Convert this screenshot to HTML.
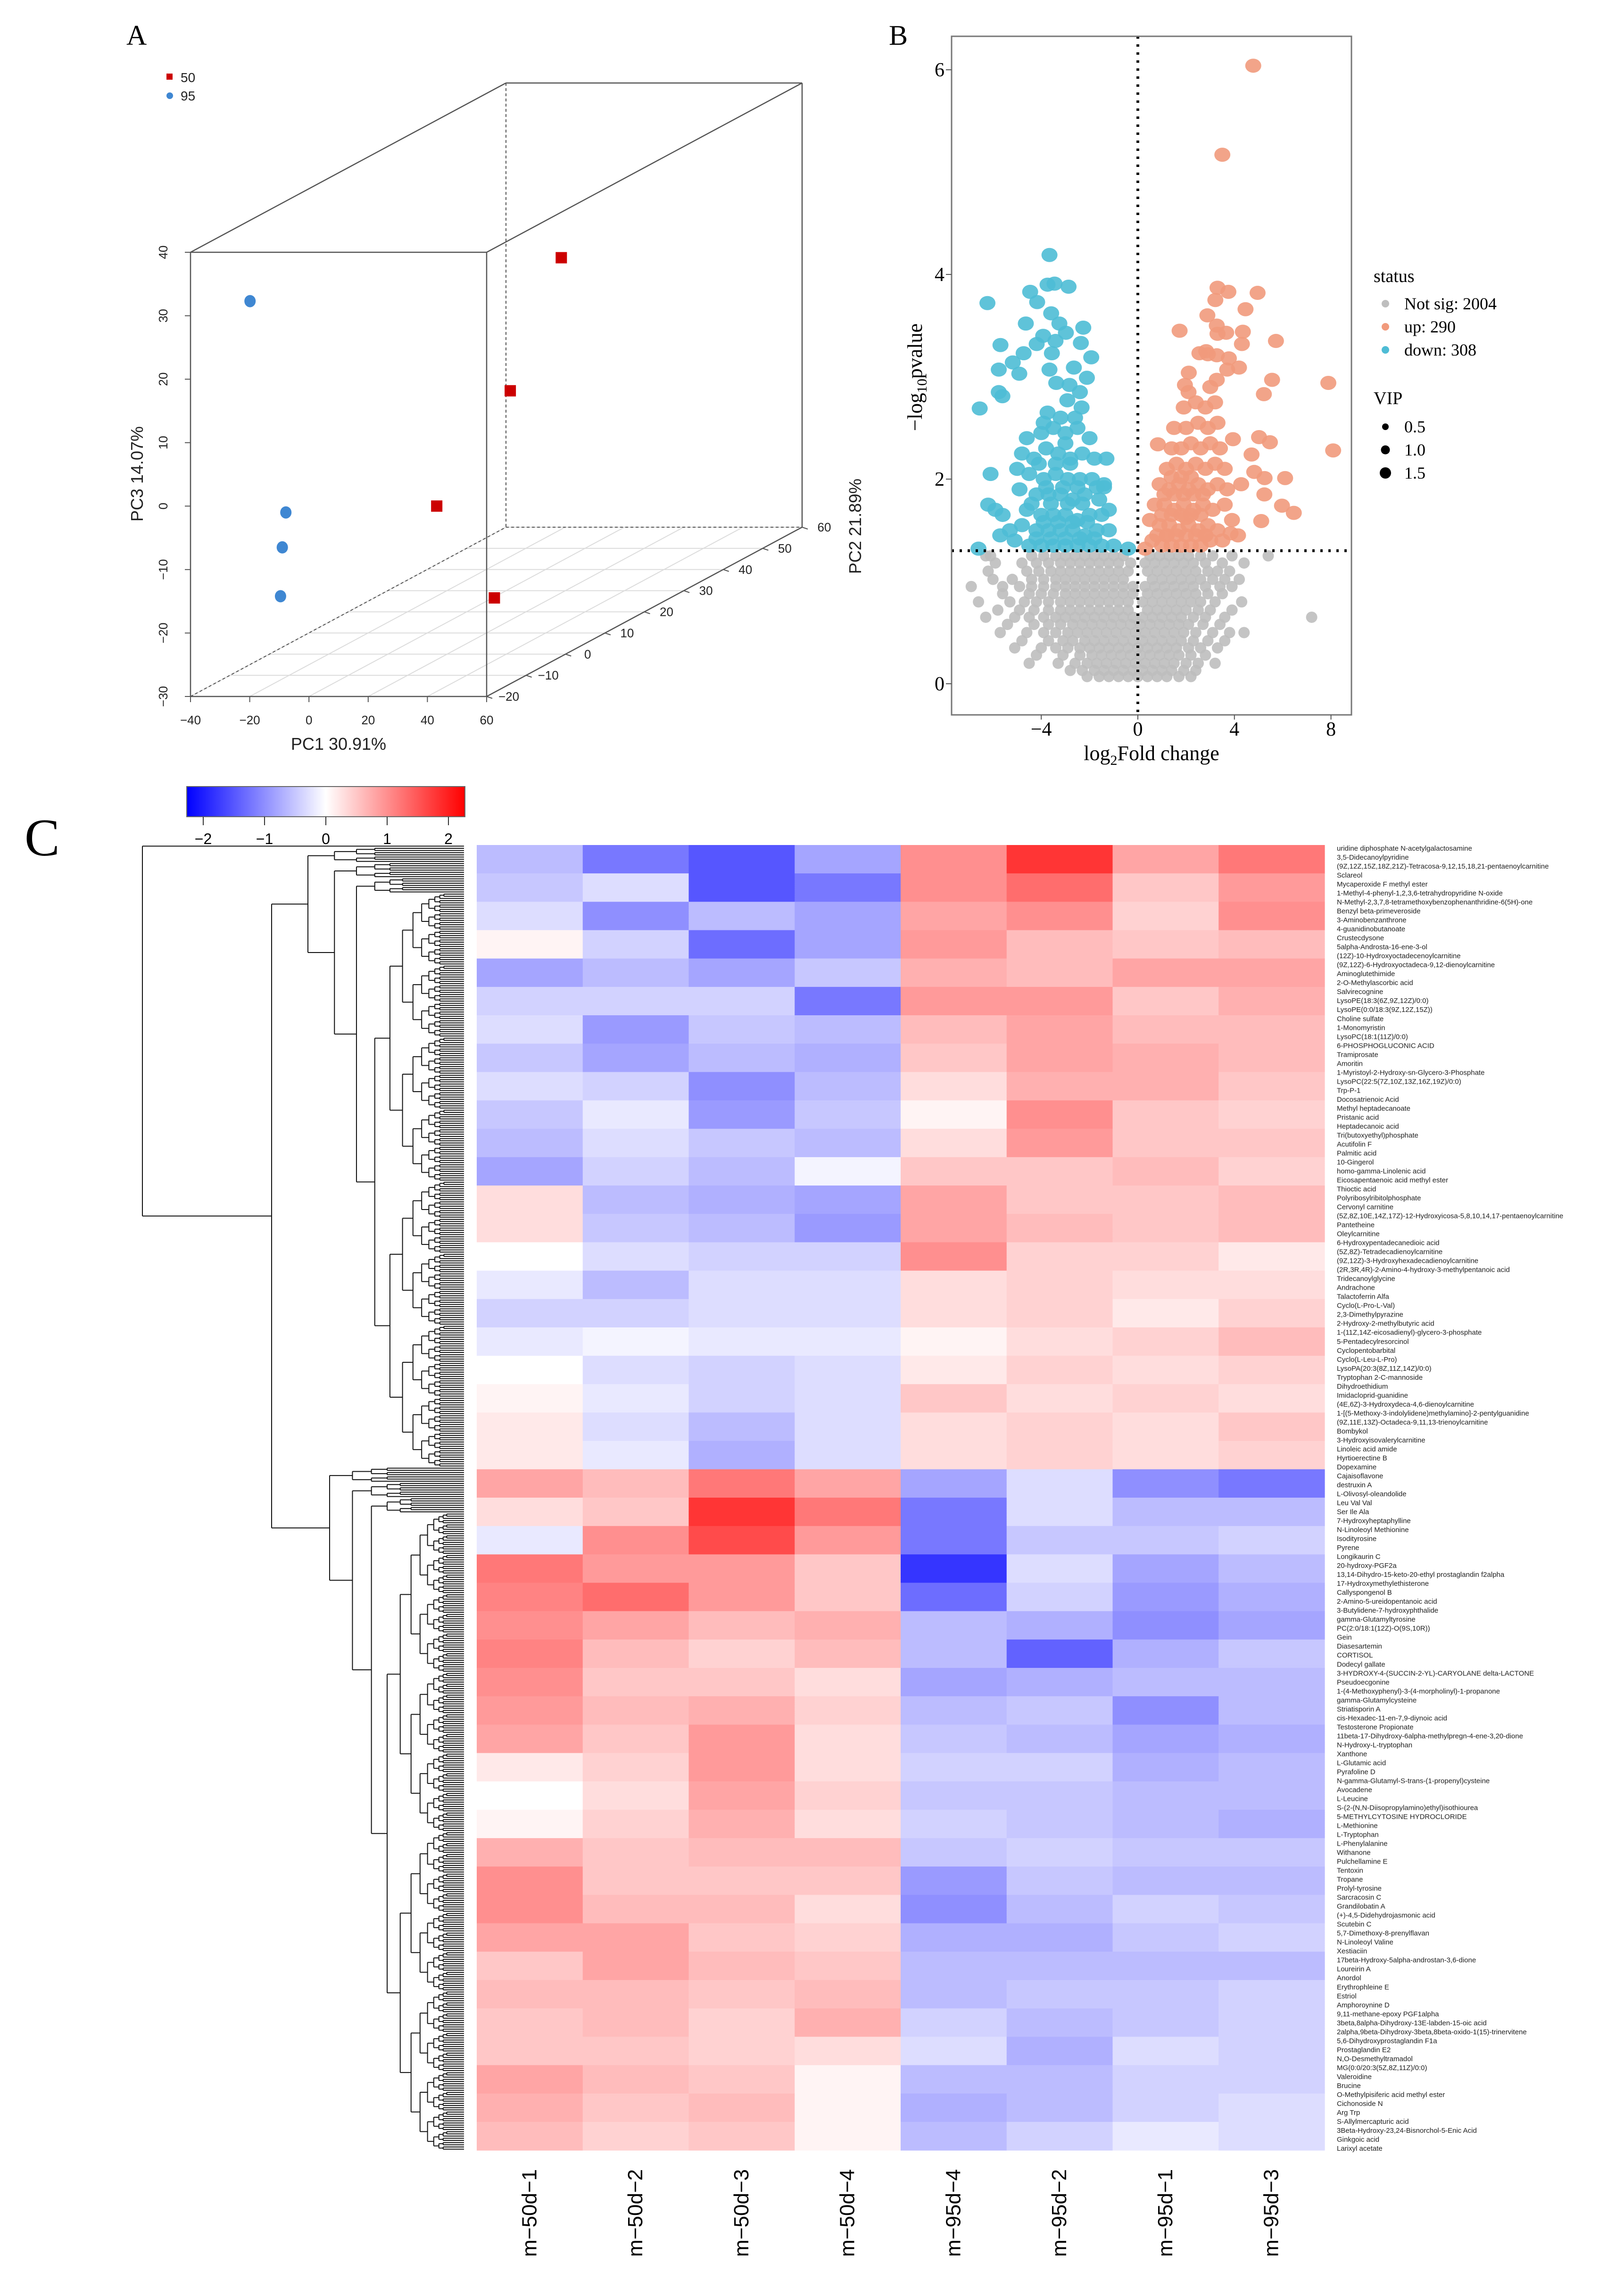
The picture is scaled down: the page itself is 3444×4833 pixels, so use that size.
<!DOCTYPE html>
<html><head><meta charset="utf-8">
<style>
html,body{margin:0;padding:0;background:#fff;}
svg{display:block;}
text{font-family:"Liberation Sans",sans-serif;}
.serif{font-family:"Liberation Serif",serif;}
</style></head>
<body>
<svg id="fig" width="3444" height="4833" viewBox="0 0 3444 4833" xmlns="http://www.w3.org/2000/svg">
<rect width="3444" height="4833" fill="#fff"/>
<g id="pca"></g>
<g id="volcano"></g>
<g id="heat"></g>
</svg>
<script>
// ---------------- PCA data ----------------
const pcaGroups = ["50","95"];
const pcaPC1 = [-8, 1.4, 3.2, 49.3,   -7.8, -9.0, -9.6, -19.9];
const pcaPC2 = [50, 30, 10, -10,   -20, -20, -20, -20];
const pcaPC3 = [15.8, 1.5, -10, -17.8,   -1.0, -6.5, -14.2, 32.3];
const pcaGroupOf = [0,0,0,0,1,1,1,1];
const pcaTicksPC1 = [-40,-20,0,20,40,60];
const pcaTicksPC2 = [-20,-10,0,10,20,30,40,50,60];
const pcaTicksPC3 = [-30,-20,-10,0,10,20,30,40];

// ---------------- Volcano data ----------------
const volXTicks = [-4,0,4,8];
const volYTicks = [0,2,4,6];
const downX = [-3.66,-3.74,-3.45,-2.87,-4.46,-6.23,-4.17,-3.59,-4.64,-3.25,-2.26,-5.69,-3.92,-2.98,-3.41,-4.73,-4.19,-2.36,-5.18,-1.93,-3.56,-5.76,-4.91,-3.66,-2.65,-2.11,-5.76,-5.61,-3.38,-2.83,-6.55,-3.74,-2.92,-2.33,
 -4.6,-4.0,-3.5,-3.0,-2.5,-2.0,-4.8,-4.3,-3.8,-3.3,-2.8,-2.3,-1.8,-1.3,-5.0,-4.5,-3.9,-3.4,-2.9,-2.4,-1.9,-6.1,-4.9,-4.2,-3.7,-3.2,-2.7,-2.2,-1.6,-6.2,-5.9,-5.6,-4.6,-4.0,-3.5,-3.0,-2.5,-2.0,-1.5,-1.2,-5.3,-4.8,-4.2,-3.7,-3.2,-2.7,-2.2,-1.7,-1.2,-5.7,-5.1,-4.5,-4.0,-3.5,-3.0,-2.5,-2.0,-1.5,-1.0,-6.6,-0.4,-3.2,-2.6,-3.9,-2.4,-3.0,-1.4,
 -4.2,-3.6,-3.0,-2.4,-1.8,-3.9,-3.3,-2.7,-2.1,-4.4,-3.6,-2.9,-2.3,-1.7,-3.8,-3.1,-2.5,-1.4,-4.1,-3.4,-2.8];
const downY = [4.19,3.90,3.91,3.88,3.83,3.72,3.73,3.62,3.52,3.52,3.48,3.31,3.40,3.43,3.35,3.23,3.32,3.33,3.14,3.19,3.23,3.07,3.03,3.07,3.09,2.99,2.85,2.81,2.94,2.92,2.69,2.65,2.77,2.70,
 2.40,2.45,2.50,2.45,2.50,2.40,2.25,2.20,2.30,2.25,2.20,2.25,2.20,2.20,2.10,2.05,2.00,2.05,2.00,2.00,2.00,2.05,1.90,1.85,1.85,1.85,1.80,1.85,1.80,1.75,1.70,1.65,1.70,1.65,1.65,1.65,1.60,1.65,1.65,1.70,1.50,1.55,1.50,1.50,1.50,1.50,1.45,1.50,1.50,1.45,1.40,1.35,1.35,1.35,1.35,1.35,1.35,1.35,1.35,1.32,1.32,2.60,2.60,2.55,2.85,2.35,1.95,
 1.42,1.42,1.42,1.42,1.42,1.58,1.58,1.58,1.58,1.76,1.76,1.76,1.76,1.92,1.92,1.92,1.92,1.92,2.15,2.15,2.15];
const upX = [4.78,3.50,2.88,3.66,2.83,2.90,3.30,3.75,3.21,4.96,4.46,1.73,3.27,3.30,4.35,4.31,5.72,2.55,3.27,3.77,2.11,4.19,3.70,5.56,7.89,1.95,3.27,5.22,8.09,0.83,5.02,5.47,4.71,3.94,4.82,5.25,6.10,4.28,5.24,5.97,6.46,5.11,3.84,4.15,
 0.6,1.0,1.4,1.8,2.2,2.6,3.0,3.5,0.5,0.9,1.3,1.7,2.1,2.5,2.9,3.3,0.7,1.1,1.5,1.9,2.3,2.7,3.1,3.6,0.9,1.3,1.7,2.1,2.5,2.9,3.3,3.7,1.2,1.6,2.0,2.4,2.8,3.2,3.6,1.4,1.8,2.2,2.6,3.0,3.4,1.5,2.0,2.5,2.9,3.3,1.9,2.4,2.8,3.2,2.1,3.0,0.3,1.2,2.0,2.8,3.9,
 0.8,1.2,1.6,2.0,2.4,2.8,1.0,1.4,1.8,2.2,2.6,1.1,1.5,1.9,2.3,2.7,1.4,1.8,2.2];
const upY = [6.04,5.17,3.60,3.43,3.25,3.22,3.87,3.83,3.75,3.82,3.66,3.45,3.50,3.42,3.44,3.32,3.35,3.23,3.21,3.18,3.04,3.09,3.07,2.97,2.94,2.92,2.97,2.83,2.28,2.34,2.41,2.36,2.24,2.39,2.07,2.01,2.01,1.95,1.85,1.74,1.67,1.59,1.47,1.45,
 1.40,1.35,1.35,1.35,1.35,1.35,1.40,1.40,1.60,1.55,1.55,1.50,1.55,1.50,1.55,1.50,1.75,1.75,1.70,1.75,1.70,1.75,1.70,1.75,1.95,1.90,1.95,1.90,1.95,1.90,1.95,1.90,2.10,2.15,2.10,2.15,2.10,2.15,2.10,2.30,2.30,2.35,2.30,2.35,2.30,2.50,2.50,2.55,2.50,2.55,2.70,2.75,2.70,2.75,2.85,2.90,1.32,1.45,1.62,1.45,1.60,
 1.45,1.45,1.45,1.45,1.45,1.45,1.65,1.65,1.65,1.65,1.65,1.85,1.85,1.85,1.85,1.85,2.02,2.02,2.02];
const nsRowY = [1.25,1.18,1.1,1.02,0.95,0.88,0.8,0.72,0.65,0.58,0.5,0.42,0.35,0.28,0.2,0.13,0.07];
const nsRowX = [
 [-6.3,-6.1,-4.4,-3.9,-3.4,-3.0,-2.6,-2.2,-1.8,-1.4,-1.0,-0.6,0.5,0.9,1.3,1.7,2.1,2.6,3.1,3.9,5.4],
 [-5.9,-4.8,-4.2,-3.7,-3.2,-2.8,-2.4,-2.0,-1.6,-1.2,-0.8,-0.3,0.3,0.7,1.1,1.5,1.9,2.3,2.8,3.5,4.4],
 [-6.2,-4.6,-4.1,-3.6,-3.2,-2.8,-2.4,-2.0,-1.6,-1.2,-0.8,-0.4,0.4,0.8,1.2,1.6,2.0,2.4,2.9,3.3,3.8],
 [-6.0,-5.2,-4.4,-3.9,-3.4,-3.0,-2.6,-2.2,-1.8,-1.4,-1.0,-0.6,0.6,1.0,1.4,1.8,2.2,2.6,3.1,3.6,4.2],
 [-6.9,-5.6,-4.9,-4.4,-3.9,-3.4,-3.0,-2.6,-2.2,-1.8,-1.4,-1.0,-0.6,-0.2,0.3,0.7,1.1,1.5,1.9,2.3,2.8,3.4,3.9],
 [-5.6,-4.5,-4.0,-3.5,-3.0,-2.6,-2.2,-1.8,-1.4,-1.0,-0.6,-0.2,0.4,0.8,1.2,1.6,2.0,2.4,2.9,3.5],
 [-6.6,-5.3,-4.7,-4.2,-3.7,-3.2,-2.8,-2.4,-2.0,-1.6,-1.2,-0.8,-0.4,0.2,0.6,1.0,1.4,1.8,2.2,2.6,3.2,4.3],
 [-5.8,-4.9,-4.3,-3.7,-3.2,-2.8,-2.4,-2.0,-1.6,-1.2,-0.8,-0.4,0.4,0.8,1.2,1.6,2.0,2.5,3.0,3.9],
 [-6.3,-5.1,-4.5,-3.9,-3.4,-3.0,-2.6,-2.2,-1.8,-1.4,-1.0,-0.6,-0.2,0.2,0.6,1.0,1.4,1.8,2.3,2.8,3.6,7.2],
 [-5.4,-4.3,-3.7,-3.2,-2.7,-2.3,-1.9,-1.5,-1.1,-0.7,-0.3,0.1,0.5,0.9,1.3,1.7,2.1,2.7,3.4],
 [-5.7,-4.6,-3.9,-3.4,-2.9,-2.5,-2.1,-1.7,-1.3,-0.9,-0.5,-0.1,0.3,0.7,1.1,1.5,1.9,2.4,3.1,3.8,4.4],
 [-4.8,-3.7,-3.1,-2.7,-2.2,-1.8,-1.4,-1.0,-0.6,-0.2,0.2,0.6,1.0,1.4,1.8,2.3,2.9,3.6],
 [-5.1,-4.0,-3.4,-2.9,-2.4,-2.0,-1.6,-1.2,-0.8,-0.4,0.0,0.4,0.8,1.2,1.6,2.1,2.6,3.3],
 [-4.2,-3.1,-2.4,-1.9,-1.5,-1.1,-0.7,-0.3,0.1,0.5,0.9,1.3,1.7,2.2,2.8],
 [-4.5,-3.3,-2.6,-2.1,-1.7,-1.3,-0.9,-0.5,-0.1,0.3,0.7,1.1,1.5,2.0,2.5,3.2],
 [-2.8,-2.3,-1.8,-1.4,-1.0,-0.6,-0.2,0.2,0.6,1.0,1.4,1.9,2.4],
 [-2.1,-1.6,-1.2,-0.8,-0.4,0.0,0.4,0.8,1.2,1.7,2.2]
];
const legendStatus = ["Not sig:  2004","up:  290","down:  308"];
const legendVIP = ["0.5","1.0","1.5"];

// ---------------- Heatmap data ----------------
const heatCols = ["m\u221250d\u22121","m\u221250d\u22122","m\u221250d\u22123","m\u221250d\u22124","m\u221295d\u22124","m\u221295d\u22122","m\u221295d\u22121","m\u221295d\u22123"];
const heatBands = [
 [-0.6,-1.2,-1.5,-0.8,1.0,1.8,0.8,1.2],
 [-0.5,-0.3,-1.5,-1.2,1.0,1.3,0.5,0.9],
 [-0.3,-1.0,-0.6,-0.8,0.8,1.0,0.4,1.0],
 [0.1,-0.4,-1.3,-0.8,0.9,0.6,0.5,0.6],
 [-0.8,-0.6,-0.8,-0.5,0.7,0.6,0.8,0.8],
 [-0.4,-0.4,-0.4,-1.2,0.9,0.9,0.5,0.7],
 [-0.3,-0.9,-0.5,-0.6,0.6,0.8,0.6,0.6],
 [-0.5,-0.8,-0.6,-0.7,0.5,0.8,0.7,0.6],
 [-0.3,-0.4,-1.0,-0.6,0.3,0.7,0.7,0.5],
 [-0.5,-0.2,-0.9,-0.5,0.1,1.0,0.5,0.4],
 [-0.6,-0.3,-0.5,-0.6,0.3,0.9,0.5,0.5],
 [-0.8,-0.4,-0.6,-0.1,0.5,0.5,0.6,0.4],
 [0.3,-0.6,-0.7,-0.8,0.8,0.5,0.5,0.6],
 [0.3,-0.5,-0.6,-0.9,0.8,0.6,0.5,0.6],
 [0.0,-0.3,-0.4,-0.4,1.0,0.4,0.4,0.2],
 [-0.2,-0.6,-0.3,-0.3,0.3,0.4,0.3,0.3],
 [-0.4,-0.4,-0.3,-0.3,0.3,0.4,0.2,0.4],
 [-0.2,-0.1,-0.2,-0.2,0.1,0.3,0.4,0.6],
 [0.0,-0.3,-0.4,-0.3,0.2,0.4,0.3,0.4],
 [0.1,-0.2,-0.4,-0.3,0.5,0.3,0.4,0.3],
 [0.2,-0.3,-0.6,-0.3,0.3,0.4,0.3,0.5],
 [0.2,-0.2,-0.7,-0.3,0.3,0.4,0.3,0.4],
 [0.8,0.6,1.2,0.8,-0.8,-0.3,-1.0,-1.2],
 [0.3,0.5,1.8,1.2,-1.2,-0.3,-0.6,-0.6],
 [-0.2,1.0,1.6,0.9,-1.2,-0.5,-0.5,-0.4],
 [1.2,0.9,0.9,0.5,-1.8,-0.3,-0.8,-0.6],
 [1.1,1.3,0.9,0.5,-1.3,-0.4,-0.9,-0.7],
 [1.0,0.8,0.6,0.7,-0.6,-0.7,-1.0,-0.8],
 [1.1,0.6,0.4,0.6,-0.6,-1.4,-0.7,-0.5],
 [1.0,0.5,0.5,0.3,-0.8,-0.7,-0.6,-0.6],
 [0.9,0.6,0.7,0.4,-0.6,-0.5,-1.0,-0.6],
 [0.8,0.5,0.9,0.3,-0.5,-0.6,-0.8,-0.7],
 [0.2,0.4,0.9,0.3,-0.4,-0.4,-0.7,-0.6],
 [0.0,0.3,0.8,0.4,-0.5,-0.5,-0.6,-0.6],
 [0.1,0.4,0.7,0.3,-0.4,-0.5,-0.6,-0.7],
 [0.7,0.5,0.6,0.6,-0.5,-0.4,-0.5,-0.5],
 [1.0,0.5,0.5,0.5,-0.9,-0.5,-0.6,-0.6],
 [1.0,0.6,0.6,0.3,-1.0,-0.6,-0.4,-0.5],
 [0.8,0.8,0.5,0.4,-0.7,-0.7,-0.5,-0.4],
 [0.5,0.8,0.6,0.5,-0.6,-0.6,-0.6,-0.6],
 [0.6,0.6,0.5,0.6,-0.6,-0.5,-0.5,-0.4],
 [0.5,0.6,0.4,0.7,-0.4,-0.6,-0.5,-0.4],
 [0.5,0.5,0.4,0.3,-0.3,-0.7,-0.3,-0.4],
 [0.8,0.6,0.5,0.1,-0.6,-0.6,-0.4,-0.4],
 [0.7,0.5,0.6,0.1,-0.7,-0.6,-0.4,-0.3],
 [0.6,0.4,0.5,0.1,-0.6,-0.4,-0.2,-0.3]
];
const colorTicks = [-2,-1,0,1,2];
const rowLabels = ["uridine diphosphate N-acetylgalactosamine","3,5-Didecanoylpyridine","(9Z,12Z,15Z,18Z,21Z)-Tetracosa-9,12,15,18,21-pentaenoylcarnitine","Sclareol","Mycaperoxide F methyl ester","1-Methyl-4-phenyl-1,2,3,6-tetrahydropyridine N-oxide","N-Methyl-2,3,7,8-tetramethoxybenzophenanthridine-6(5H)-one","Benzyl beta-primeveroside","3-Aminobenzanthrone","4-guanidinobutanoate","Crustecdysone","5alpha-Androsta-16-ene-3-ol","(12Z)-10-Hydroxyoctadecenoylcarnitine","(9Z,12Z)-6-Hydroxyoctadeca-9,12-dienoylcarnitine","Aminoglutethimide","2-O-Methylascorbic acid","Salvirecognine","LysoPE(18:3(6Z,9Z,12Z)/0:0)","LysoPE(0:0/18:3(9Z,12Z,15Z))","Choline sulfate","1-Monomyristin","LysoPC(18:1(11Z)/0:0)","6-PHOSPHOGLUCONIC ACID","Tramiprosate","Amoritin","1-Myristoyl-2-Hydroxy-sn-Glycero-3-Phosphate","LysoPC(22:5(7Z,10Z,13Z,16Z,19Z)/0:0)","Trp-P-1","Docosatrienoic Acid","Methyl heptadecanoate","Pristanic acid","Heptadecanoic acid","Tri(butoxyethyl)phosphate","Acutifolin F","Palmitic acid","10-Gingerol","homo-gamma-Linolenic acid","Eicosapentaenoic acid methyl ester","Thioctic acid","Polyribosylribitolphosphate","Cervonyl carnitine","(5Z,8Z,10E,14Z,17Z)-12-Hydroxyicosa-5,8,10,14,17-pentaenoylcarnitine","Pantetheine","Oleylcarnitine","6-Hydroxypentadecanedioic acid","(5Z,8Z)-Tetradecadienoylcarnitine","(9Z,12Z)-3-Hydroxyhexadecadienoylcarnitine","(2R,3R,4R)-2-Amino-4-hydroxy-3-methylpentanoic acid","Tridecanoylglycine","Andrachone","Talactoferrin Alfa","Cyclo(L-Pro-L-Val)","2,3-Dimethylpyrazine","2-Hydroxy-2-methylbutyric acid","1-(11Z,14Z-eicosadienyl)-glycero-3-phosphate","5-Pentadecylresorcinol","Cyclopentobarbital","Cyclo(L-Leu-L-Pro)","LysoPA(20:3(8Z,11Z,14Z)/0:0)","Tryptophan 2-C-mannoside","Dihydroethidium","Imidacloprid-guanidine","(4E,6Z)-3-Hydroxydeca-4,6-dienoylcarnitine","1-[(5-Methoxy-3-indolylidene)methylamino]-2-pentylguanidine","(9Z,11E,13Z)-Octadeca-9,11,13-trienoylcarnitine","Bombykol","3-Hydroxyisovalerylcarnitine","Linoleic acid amide","Hyrtioerectine B","Dopexamine","Cajaisoflavone","destruxin A","L-Olivosyl-oleandolide","Leu Val Val","Ser Ile Ala","7-Hydroxyheptaphylline","N-Linoleoyl Methionine","Isodityrosine","Pyrene","Longikaurin C","20-hydroxy-PGF2a","13,14-Dihydro-15-keto-20-ethyl prostaglandin f2alpha","17-Hydroxymethylethisterone","Callyspongenol B","2-Amino-5-ureidopentanoic acid","3-Butylidene-7-hydroxyphthalide","gamma-Glutamyltyrosine","PC(2:0/18:1(12Z)-O(9S,10R))","Gein","Diasesartemin","CORTISOL","Dodecyl gallate","3-HYDROXY-4-(SUCCIN-2-YL)-CARYOLANE delta-LACTONE","Pseudoecgonine","1-(4-Methoxyphenyl)-3-(4-morpholinyl)-1-propanone","gamma-Glutamylcysteine","Striatisporin A","cis-Hexadec-11-en-7,9-diynoic acid","Testosterone Propionate","11beta-17-Dihydroxy-6alpha-methylpregn-4-ene-3,20-dione","N-Hydroxy-L-tryptophan","Xanthone","L-Glutamic acid","Pyrafoline D","N-gamma-Glutamyl-S-trans-(1-propenyl)cysteine","Avocadene","L-Leucine","S-(2-(N,N-Diisopropylamino)ethyl)isothiourea","5-METHYLCYTOSINE HYDROCLORIDE","L-Methionine","L-Tryptophan","L-Phenylalanine","Withanone","Pulchellamine E","Tentoxin","Tropane","Prolyl-tyrosine","Sarcracosin C","Grandilobatin A","(+)-4,5-Didehydrojasmonic acid","Scutebin C","5,7-Dimethoxy-8-prenylflavan","N-Linoleoyl Valine","Xestiaciin","17beta-Hydroxy-5alpha-androstan-3,6-dione","Loureirin A","Anordol","Erythrophleine E","Estriol","Amphoroynine D","9,11-methane-epoxy PGF1alpha","3beta,8alpha-Dihydroxy-13E-labden-15-oic acid","2alpha,9beta-Dihydroxy-3beta,8beta-oxido-1(15)-trinervitene","5,6-Dihydroxyprostaglandin F1a","Prostaglandin E2","N,O-Desmethyltramadol","MG(0:0/20:3(5Z,8Z,11Z)/0:0)","Valeroidine","Brucine","O-Methylpisiferic acid methyl ester","Cichonoside N","Arg Trp","S-Allylmercapturic acid","3Beta-Hydroxy-23,24-Bisnorchol-5-Enic Acid","Ginkgoic acid","Larixyl acetate"];

const NS="http://www.w3.org/2000/svg";
function mk(tag, attrs, parent, txt){
  const e=document.createElementNS(NS,tag);
  for(const k in attrs) e.setAttribute(k,attrs[k]);
  if(txt!==undefined) e.textContent=txt;
  parent.appendChild(e); return e;
}

// ================= PCA =================
(function(){
  const g=document.getElementById('pca');
  const FL=404, FR=1032, FT=535, FB=1477; const DX=669, DY=-359;
  const x1=v=>FL+(v+40)/100*(FR-FL);
  const z3=v=>FB-(v+30)/70*(FB-FT);
  const dep=v=>(v+20)/80;
  const P=(a,b,c)=>{const t=dep(b);return [x1(a)+t*DX, z3(c)+t*DY];};
  let t=mk('text',{x:268,y:95,'font-size':60,class:'serif'},g,'A');
  
  
  pcaTicksPC2.forEach(v=>{const tt=dep(v);
    const l=mk('line',{x1:FL+tt*DX,y1:FB+tt*DY,x2:FR+tt*DX,y2:FB+tt*DY,stroke:'#dcdcdc','stroke-width':2},g);
    
    });
  pcaTicksPC1.forEach(v=>{const x=x1(v);
    const l=mk('line',{x1:x,y1:FB,x2:x+DX,y2:FB+DY,stroke:'#dcdcdc','stroke-width':2},g);
    
    });
  const solid=[[FL,FT,FR,FT],[FL,FT,FL,FB],[FR,FT,FR,FB],[FL,FB,FR,FB],[FL,FT,FL+DX,FT+DY],[FR,FT,FR+DX,FT+DY],[FL+DX,FT+DY,FR+DX,FT+DY],[FR+DX,FT+DY,FR+DX,FB+DY],[FR,FB,FR+DX,FB+DY]];
  solid.forEach(s=>{const l=mk('line',{x1:s[0],y1:s[1],x2:s[2],y2:s[3],stroke:'#555','stroke-width':2.5},g);
    
    });
  const dashed=[[FL+DX,FT+DY,FL+DX,FB+DY],[FL+DX,FB+DY,FR+DX,FB+DY],[FL,FB,FL+DX,FB+DY]];
  dashed.forEach(s=>{const l=mk('line',{x1:s[0],y1:s[1],x2:s[2],y2:s[3],stroke:'#555','stroke-width':2,'stroke-dasharray':'6,5'},g);
    
    });
  pcaTicksPC3.forEach(v=>{const y=z3(v);
    mk('line',{x1:FL-12,y1:y,x2:FL,y2:y,stroke:'#555','stroke-width':2},g);
    const tx=mk('text',{x:355,y:y,'font-size':26,'text-anchor':'middle',transform:`rotate(-90 355 ${y})`,fill:'#222'},g,String(v).replace('-','\u2212'));
    
    });
  pcaTicksPC1.forEach(v=>{const x=x1(v);
    mk('line',{x1:x,y1:FB,x2:x,y2:FB+12,stroke:'#555','stroke-width':2},g);
    const tx=mk('text',{x:x,y:1536,'font-size':26,'text-anchor':'middle',fill:'#222'},g,String(v).replace('-','\u2212'));
    
    });
  pcaTicksPC2.forEach(v=>{const tt=dep(v);const x=FR+tt*DX,y=FB+tt*DY;
    mk('line',{x1:x,y1:y,x2:x+12,y2:y+4,stroke:'#555','stroke-width':2},g);
    const tx=mk('text',{x:x+47,y:y+9,'font-size':26,'text-anchor':'middle',fill:'#222'},g,String(v).replace('-','\u2212'));
    
    });
  t=mk('text',{x:718,y:1590,'font-size':36,'text-anchor':'middle',fill:'#222'},g,'PC1  30.91%');
  
  
  t=mk('text',{x:303,y:1005,'font-size':36,'text-anchor':'middle',transform:'rotate(-90 303 1005)',fill:'#222'},g,'PC3  14.07%');
  
  
  t=mk('text',{x:1826,y:1116,'font-size':36,'text-anchor':'middle',transform:'rotate(-90 1826 1116)',fill:'#222'},g,'PC2  21.89%');
  
  
  pcaPC1.forEach((v,i)=>{const [x,y]=P(v,pcaPC2[i],pcaPC3[i]);let m;
    if(pcaGroupOf[i]===0){m=mk('rect',{x:x-12,y:y-12,width:24,height:24,fill:'#cc0000'},g);}
    else {m=mk('ellipse',{cx:x,cy:y,rx:12,ry:13,fill:'#3f87d2'},g);}
    
    });
  let m=mk('rect',{x:353,y:156,width:13,height:13,fill:'#cc0000'},g);
  
  
  t=mk('text',{x:383,y:174,'font-size':28,fill:'#222'},g,pcaGroups[0]);
  
  
  m=mk('circle',{cx:360,cy:203,r:7,fill:'#3f87d2'},g);
  
  
  t=mk('text',{x:383,y:213,'font-size':28,fill:'#222'},g,pcaGroups[1]);
  
  
})();

// ================= Volcano =================
(function(){
  const g=document.getElementById('volcano');
  const L=2018,R=2866,T=77,B=1516;
  const X=v=>2413+v*51.2, Y=v=>1450-v*217;
  let t=mk('text',{x:1885,y:95,'font-size':60,class:'serif'},g,'B');
  
  
  const clip=mk('clipPath',{id:'vclip'},g); mk('rect',{x:L,y:T,width:R-L,height:B-T},clip);
  const pg=mk('g',{'clip-path':'url(#vclip)'},g);
  nsRowY.forEach((yy,r)=>nsRowX[r].forEach(xx=>{
    const c=mk('circle',{cx:X(xx),cy:Y(yy),r:12,fill:'#bebebe','fill-opacity':0.9},pg);
    
    }));
  downX.forEach((xx,i)=>{const c=mk('ellipse',{cx:X(xx),cy:Y(downY[i]),rx:17,ry:15,fill:'#4ebcd5','fill-opacity':0.9},pg);
    
    });
  upX.forEach((xx,i)=>{const c=mk('ellipse',{cx:X(xx),cy:Y(upY[i]),rx:17,ry:15,fill:'#f19a7c','fill-opacity':0.9},pg);
    
    });
  let l=mk('line',{x1:X(0),y1:T,x2:X(0),y2:B,stroke:'#000','stroke-width':6,'stroke-dasharray':'5,12'},g);
  
  
  l=mk('line',{x1:L,y1:Y(1.3),x2:R,y2:Y(1.3),stroke:'#000','stroke-width':6,'stroke-dasharray':'5,12'},g);
  
  
  const fr=mk('rect',{x:L,y:T,width:R-L,height:B-T,fill:'none',stroke:'#777','stroke-width':3},g);
  
  
  volXTicks.forEach(v=>{mk('line',{x1:X(v),y1:B,x2:X(v),y2:B+10,stroke:'#555','stroke-width':2},g);
    const tx=mk('text',{x:X(v),y:1560,'font-size':42,'text-anchor':'middle',class:'serif'},g,String(v).replace('-','\u2212'));
    
    });
  volYTicks.forEach(v=>{mk('line',{x1:L-12,y1:Y(v),x2:L,y2:Y(v),stroke:'#555','stroke-width':2},g);
    const tx=mk('text',{x:2003,y:Y(v)+14,'font-size':42,'text-anchor':'end',class:'serif'},g,String(v));
    
    });
  t=mk('text',{x:2442,y:1612,'font-size':44,'text-anchor':'middle',class:'serif'},g);
  t.innerHTML='log<tspan font-size="30" dy="10">2</tspan><tspan dy="-10">Fold change</tspan>';
  
  
  t=mk('text',{x:1955,y:800,'font-size':44,'text-anchor':'middle',class:'serif',transform:'rotate(-90 1955 800)'},g);
  t.innerHTML='\u2212log<tspan font-size="30" dy="10">10</tspan><tspan dy="-10">pvalue</tspan>';
  
  
  t=mk('text',{x:2913,y:598,'font-size':38,class:'serif'},g,'status');
  
  
  const cols=['#bebebe','#f19a7c','#4ebcd5'];
  legendStatus.forEach((s,i)=>{const y=644+i*49;
    const c=mk('circle',{cx:2938,cy:y,r:8,fill:cols[i]},g);
    
    
    const tx=mk('text',{x:2978,y:y+12,'font-size':36,class:'serif'},g,s);
    
    });
  t=mk('text',{x:2913,y:857,'font-size':38,class:'serif'},g,'VIP');
  
  
  legendVIP.forEach((s,i)=>{const y=905+i*49;
    const c=mk('circle',{cx:2938,cy:y,r:7+i*2.5,fill:'#000'},g);
    
    
    const tx=mk('text',{x:2978,y:y+12,'font-size':36,class:'serif'},g,s);
    
    });
})();

// ================= Heatmap =================
(function(){
  const g=document.getElementById('heat');
  const HL=1011,HR=2809,HT=1792,HB=4560,N=598,BAND=13;
  const rh=(HB-HT)/N, cw=(HR-HL)/8;
  const col=v=>{const t=Math.min(Math.abs(v)/2.27,1);const c=Math.round(255*(1-t));
    return v>=0?`rgb(255,${c},${c})`:`rgb(${c},${c},255)`;};
  let t=mk('text',{x:52,y:1814,'font-size':112,class:'serif'},g,'C');
  
  
  const defs=mk('defs',{},g);
  const lg=mk('linearGradient',{id:'cbg',x1:0,x2:1,y1:0,y2:0},defs);
  mk('stop',{offset:0,'stop-color':'#0000ff'},lg);
  mk('stop',{offset:0.5,'stop-color':'#ffffff'},lg);
  mk('stop',{offset:1,'stop-color':'#ff0000'},lg);
  const cb=mk('rect',{x:396,y:1668,width:590,height:64,fill:'url(#cbg)',stroke:'#666','stroke-width':2},g);
  
  
  colorTicks.forEach(v=>{const x=691+v*130;
    mk('line',{x1:x,y1:1732,x2:x,y2:1750,stroke:'#333','stroke-width':2},g);
    const tx=mk('text',{x:x,y:1790,'font-size':32,'text-anchor':'middle'},g,String(v).replace('-','\u2212'));
    
    });
  for(let r=0;r<N;r++){const b=heatBands[Math.min(Math.floor(r/BAND),heatBands.length-1)];
    for(let c=0;c<8;c++){
      const cell=mk('rect',{x:HL+c*cw,y:HT+r*rh,width:cw+0.6,height:rh+0.6,fill:col(b[c])},g);
      
      }}
  heatCols.forEach((s,i)=>{const x=HL+(i+0.5)*cw+14;
    const tx=mk('text',{x:x,y:4600,'font-size':44,'text-anchor':'end',transform:`rotate(-90 ${x} 4600)`},g,s);
    
    });
  const step=(4561-1804)/(rowLabels.length-1);
  rowLabels.forEach((s,i)=>{
    const tx=mk('text',{x:2835,y:1804+i*step,'font-size':15,fill:'#222'},g,s);
    
    });
  const dg=mk('g',{stroke:'#111','stroke-width':2,fill:'none'},g);
  
  
  const END=984, yc=r=>HT+(r+0.5)*rh;
  function sub(a,b,x,ladder){
    if(a===b){const y=yc(a);mk('line',{x1:x,y1:y,x2:END,y2:y},dg);return y;}
    const m = ladder>0 ? Math.min(a+6,b-1) : Math.floor((a+b)/2);
    const cx=x+(END-x)*0.17;
    const ya=conn(a,m,x,cx,0), yb=conn(m+1,b,x,cx,ladder-1);
    mk('line',{x1:x,y1:ya,x2:x,y2:yb},dg);
    return (ya+yb)/2;
  }
  function conn(a,b,xp,xn,ladder){
    if(a===b){const y=yc(a);mk('line',{x1:xp,y1:y,x2:END,y2:y},dg);return y;}
    const y=sub(a,b,xn,ladder);mk('line',{x1:xp,y1:y,x2:xn,y2:y},dg);return y;
  }
  const y0=yc(0); mk('line',{x1:302,y1:y0,x2:END,y2:y0},dg);
  const yu=conn(1,284,576,653,3), yl=conn(285,597,576,699,3);
  mk('line',{x1:576,y1:yu,x2:576,y2:yl},dg);
  const ym=(yu+yl)/2; mk('line',{x1:302,y1:ym,x2:576,y2:ym},dg);
  mk('line',{x1:302,y1:y0,x2:302,y2:ym},dg);
})();
</script>
</body></html>
